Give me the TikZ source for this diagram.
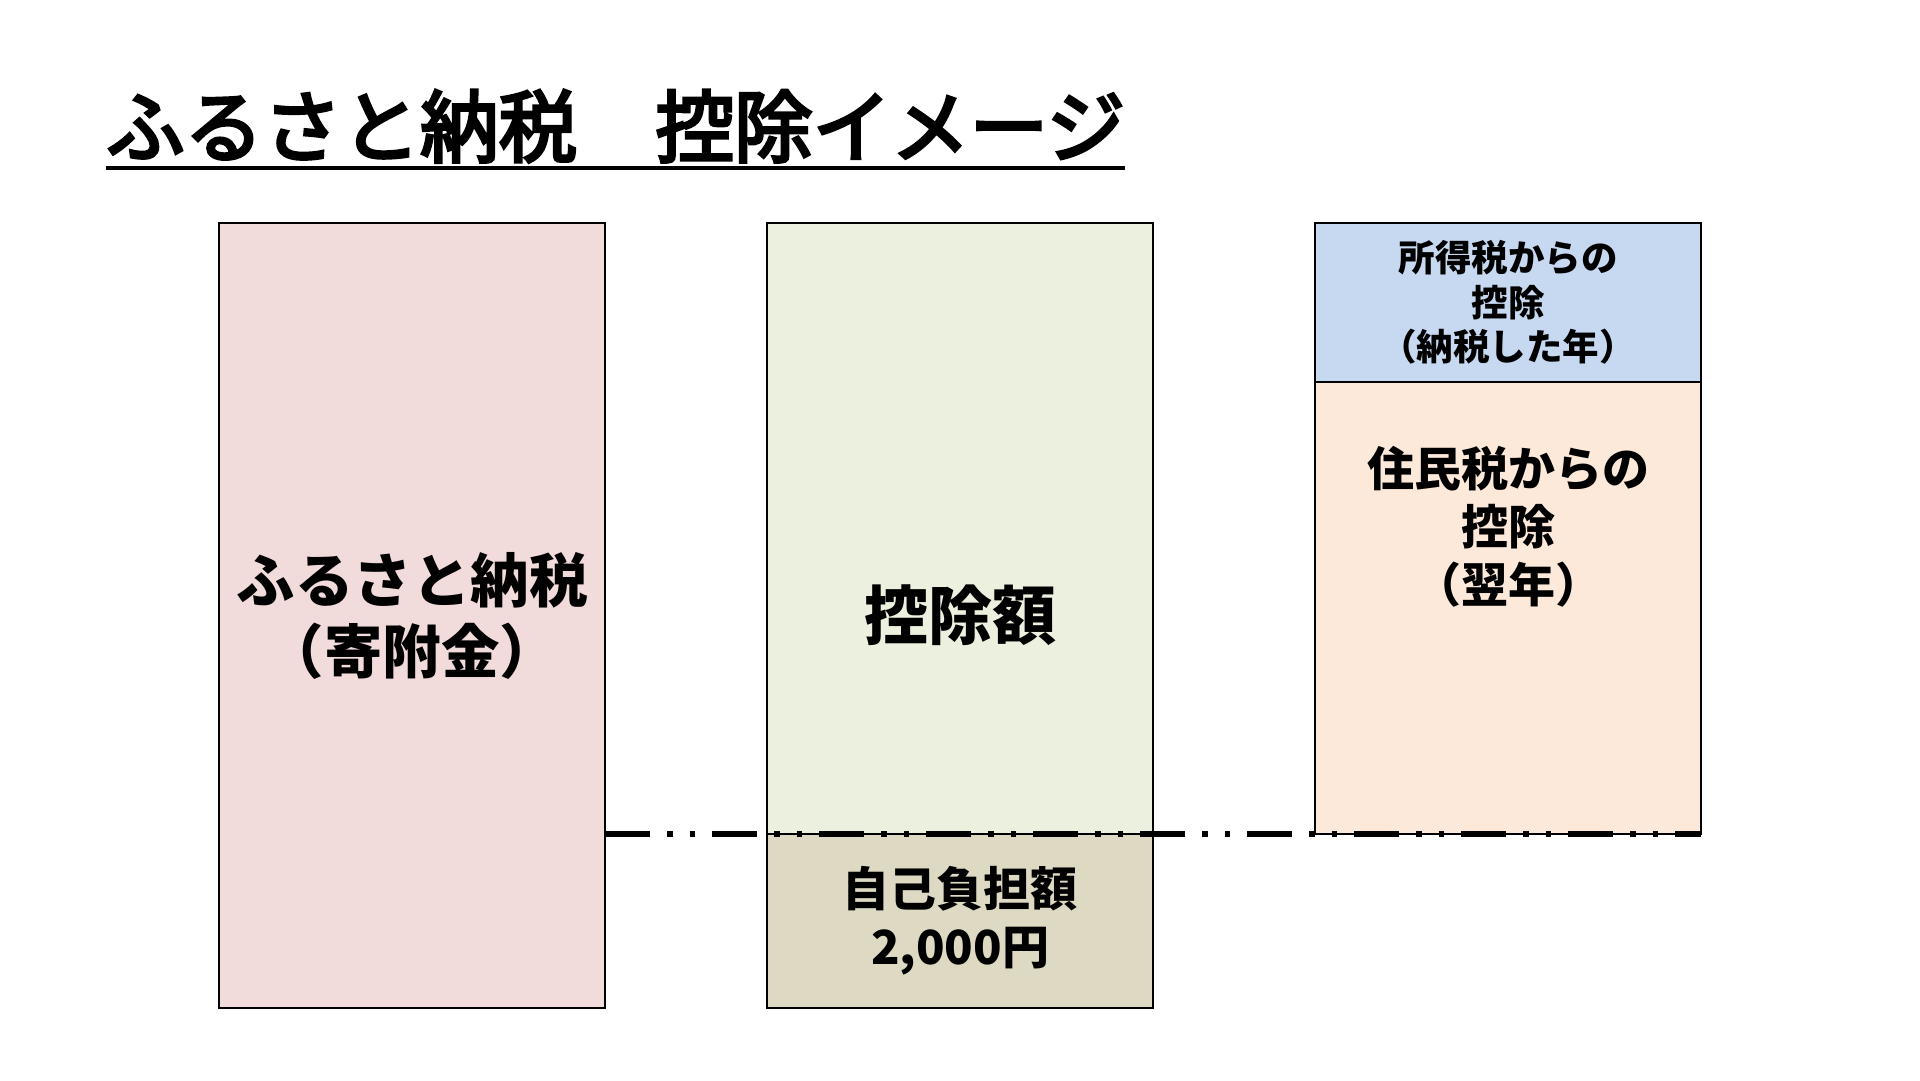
\documentclass[tikz,border=0pt]{standalone}
\usepackage{fontspec}
\setmainfont{Noto Sans CJK JP}
\newfontfamily\titlefont{Noto Sans CJK JP}[FakeBold=4]
\usepackage{xcolor}
\usepackage{tikz}
\usetikzlibrary{positioning,calc}

\definecolor{donationpink}{HTML}{F2DCDB}
\definecolor{deductgreen}{HTML}{EBF1DE}
\definecolor{selfbeige}{HTML}{DDD9C3}
\definecolor{incomeblue}{HTML}{C6D9F1}
\definecolor{residentorange}{HTML}{FDE9D9}

\begin{document}
\begin{tikzpicture}[x=1pt,y=-1pt,
  every node/.style={align=center,font=\bfseries},
  column/.style={draw,line width=2.5pt,inner sep=0pt,outer sep=0pt,minimum width=386pt,anchor=north west},
  headline/.style={anchor=base west,inner sep=0pt,font=\titlefont\fontsize{78.5pt}{94pt}\selectfont},
  huge/.style={font=\bfseries\fontsize{64pt}{77pt}\selectfont},
  big/.style={font=\bfseries\fontsize{58.5pt}{71pt}\selectfont},
  mid/.style={font=\bfseries\fontsize{47pt}{58pt}\selectfont},
  small/.style={font=\bfseries\fontsize{36.5pt}{44.7pt}\selectfont},
  limit/.style={line width=5.5pt,dash pattern=on 45pt off 17pt on 5.5pt off 17pt on 5.5pt off 17pt}]

    \useasboundingbox (0,0) rectangle (1920,1081);

    % title
    \node[headline] (title) at (106,156) {ふるさと納税　控除イメージ};
    \draw[line width=4pt] ([yshift=-12pt]title.base west) -- ([yshift=-12pt]title.base east);

    % left column
    \node[column,fill=donationpink,minimum height=785pt,big] (donation) at (219,223) {ふるさと納税\\（寄附金）};

    % middle column
    \node[column,fill=deductgreen,minimum height=611pt] (deduction) at (767,223) {};
    \node[column,fill=selfbeige,minimum height=174pt,anchor=north,mid] (selfpay) at (deduction.south) {自己負担額\\2,000円};
    \node[huge] (deductiontext) at ($(deduction.north)!0.5!(selfpay.south)$) {控除額};

    % right column
    \node[column,fill=incomeblue,minimum height=159pt,small] (incometax) at (1315,223) {所得税からの\\控除\\（納税した年）};
    \node[column,fill=residentorange,minimum height=452pt,anchor=north] (residenttax) at (incometax.south) {};
    \node[mid] (residenttext) at ($(residenttax.north)+(0,145)$) {住民税からの\\控除\\（翌年）};

    \draw[limit] (donation.east |- deduction.south) -- (residenttax.south east);
\end{tikzpicture}
\end{document}
